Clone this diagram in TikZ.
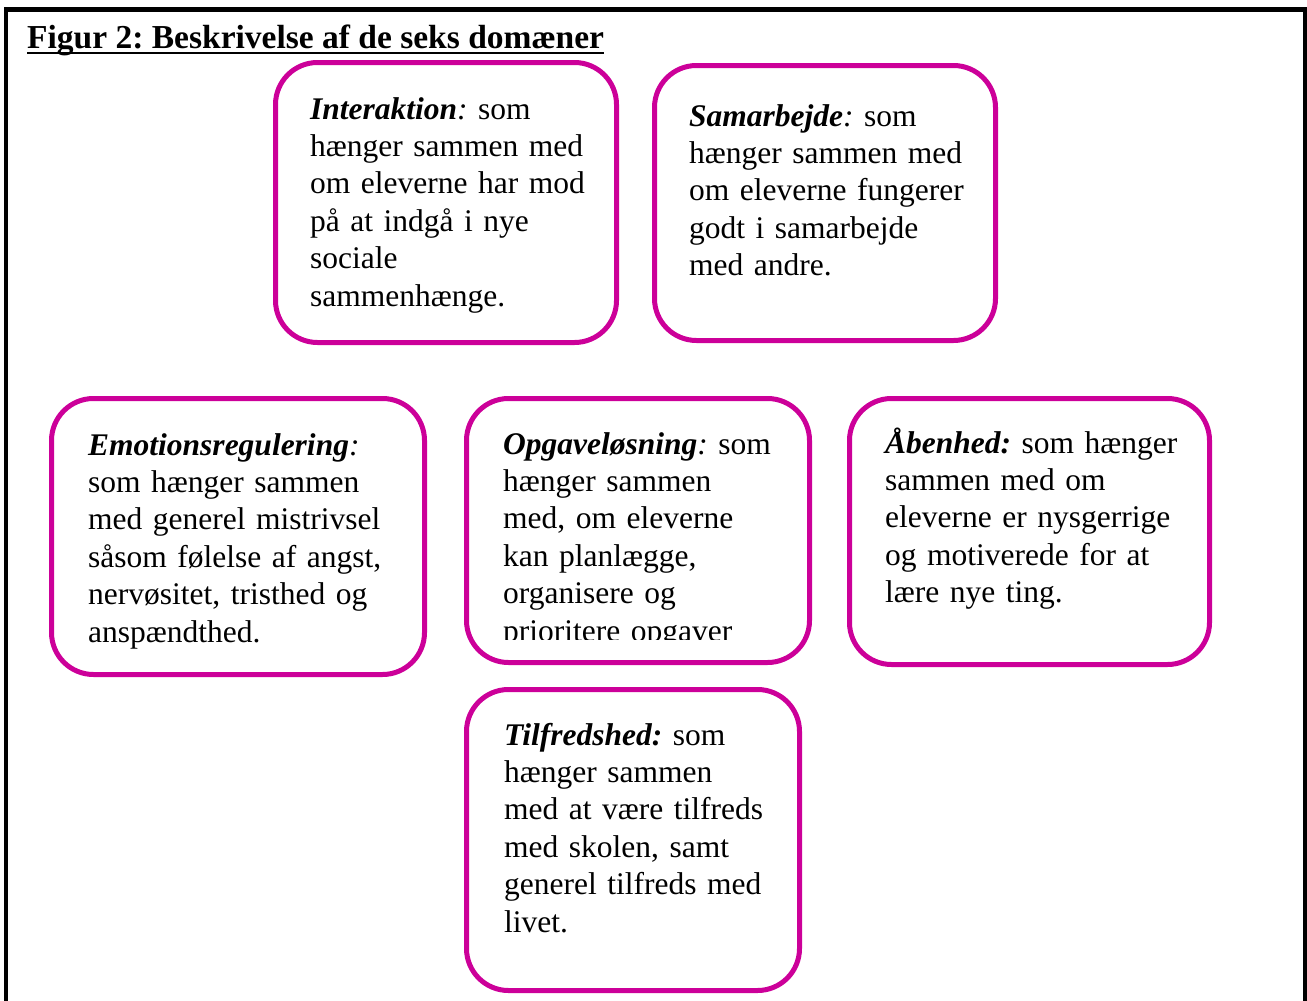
\documentclass[tikz,border=0pt]{standalone}
\usepackage{fontspec}
\setmainfont{Liberation Serif}
\frenchspacing
\definecolor{dommag}{RGB}{204,0,153}
\tikzset{
  dombox/.style={draw=dommag, line width=5pt, rounded corners=42pt},
  domtxt/.style={anchor=base west, inner sep=0pt, text width=400pt, align=left,
    font={\fontsize{31.5}{37.4}\selectfont\frenchspacing}},
  frameline/.style={draw=black, line width=4.5pt}
}
\begin{document}
\begin{tikzpicture}[x=1pt,y=-1pt]
\useasboundingbox (0,0) rectangle (1307,1001);
% outer frame (no bottom edge)
\draw[frameline] (6,1003) -- (6,9.5) -- (1305,9.5) -- (1305,1003);
% title
\node[anchor=base west, inner sep=0pt, font={\fontsize{33.5}{40}\selectfont\bfseries\frenchspacing}] (title) at (27,48) {Figur 2: Beskrivelse af de seks domæner};
\draw[line width=2pt] ([yshift=-4.5pt]title.base west) -- ([yshift=-4.5pt]title.base east);
% boxes
\draw[dombox] (275.5,62.5) rectangle (616.5,342.5);
\draw[dombox] (654.5,65.5) rectangle (995.5,340.5);
\draw[dombox] (51.5,398.5) rectangle (424.5,674.5);
\draw[dombox] (466.5,398.5) rectangle (809.5,662.5);
\draw[dombox] (849.5,398.5) rectangle (1209.5,664.5);
\draw[dombox] (466.5,689.5) rectangle (799.5,990.5);
% texts
\node[domtxt] (t1) at (310,119) {{\bfseries\itshape Interaktion}\textit{:} som\\hænger sammen med\\om eleverne har mod\\på at indgå i nye\\sociale\\sammenhænge.};
\node[domtxt] (t2) at (689,126) {{\bfseries\itshape Samarbejde}\textit{:} som\\hænger sammen med\\om eleverne fungerer\\godt i samarbejde\\med andre.};
\node[domtxt] (t3) at (88,455) {{\bfseries\itshape Emotionsregulering}\textit{:}\\som hænger sammen\\med generel mistrivsel\\såsom følelse af angst,\\nervøsitet, tristhed og\\anspændthed.};
\begin{scope}
\clip (460,390) rectangle (820,639);
\node[domtxt] (t4) at (503,454) {{\bfseries\itshape Opgaveløsning}\textit{:} som\\hænger sammen\\med, om eleverne\\kan planlægge,\\organisere og\\prioritere opgaver};
\end{scope}
\node[domtxt] (t5) at (885,453) {{\bfseries\itshape Åbenhed:} som hænger\\sammen med om\\eleverne er nysgerrige\\og motiverede for at\\lære nye ting.};
\node[domtxt] (t6) at (504,745) {{\bfseries\itshape Tilfredshed:} som\\hænger sammen\\med at være tilfreds\\med skolen, samt\\generel tilfreds med\\livet.};
\end{tikzpicture}
\end{document}
